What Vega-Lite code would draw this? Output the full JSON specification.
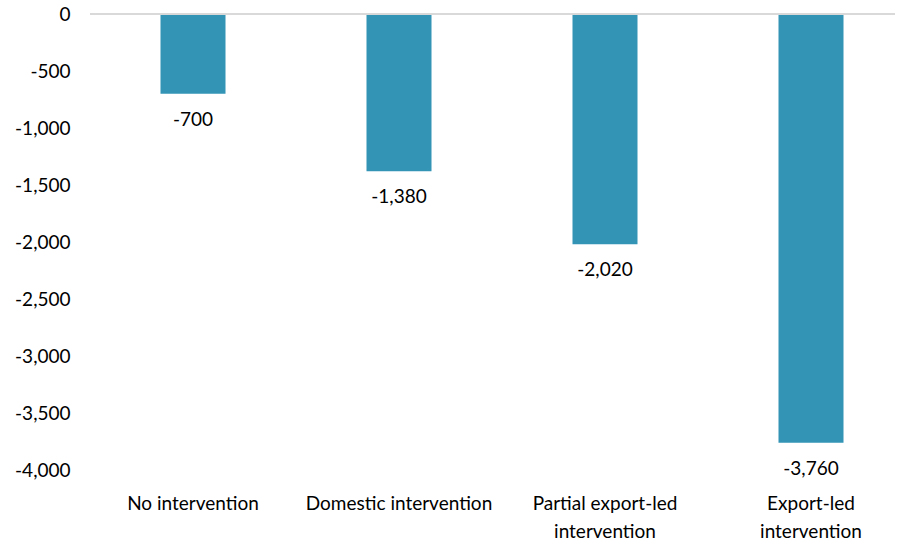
{
  "$schema": "https://vega.github.io/schema/vega-lite/v6.json",
  "width": 805,
  "height": 456,
  "autosize": "none",
  "padding": {"left": 90, "top": 14, "right": 6, "bottom": 71},
  "background": "white",
  "config": {"view": {"stroke": null}, "font": "Lato"},
  "data": {"values": [
    {"scenario": "No intervention", "value": -700, "label": "-700"},
    {"scenario": "Domestic intervention", "value": -1380, "label": "-1,380"},
    {"scenario": "Partial export-led intervention", "value": -2020, "label": "-2,020"},
    {"scenario": "Export-led intervention", "value": -3760, "label": "-3,760"}
  ]},
  "encoding": {
    "x": {"field": "scenario", "type": "nominal", "sort": null,
      "scale": {"range": [0, 824], "paddingInner": 0.684, "paddingOuter": 0.342},
      "axis": {"title": null, "domain": false, "ticks": false, "labelAngle": 0, "labelPadding": 33,
        "labelFontSize": 19, "labelColor": "#000000", "labelFont": "Lato", "labelLineHeight": 28,
        "labelBaseline": "middle", "labelLimit": 0,
        "labelExpr": "datum.label == 'Partial export-led intervention' ? ['Partial export-led','intervention'] : datum.label == 'Export-led intervention' ? ['Export-led','intervention'] : datum.label"}}
  },
  "layer": [
    {"mark": {"type": "bar", "color": "#3394B6", "width": 65},
      "encoding": {
        "y": {"field": "value", "type": "quantitative",
          "scale": {"domain": [-4000, 0], "nice": false},
          "axis": {"title": null, "domain": false, "ticks": false, "grid": false,
            "values": [0, -500, -1000, -1500, -2000, -2500, -3000, -3500, -4000],
            "labelPadding": 20, "labelFontSize": 19, "labelColor": "#000000", "labelFont": "Lato",
            "labelExpr": "datum.value == 0 ? '0' : '-' + format(abs(datum.value), ',')"}}
      }},
    {"mark": {"type": "rule", "color": "#d9d9d9", "strokeWidth": 1.5},
      "encoding": {"y": {"datum": 0, "type": "quantitative"}, "x": null}},
    {"mark": {"type": "text", "baseline": "top", "dy": 17, "fontSize": 19, "color": "#000000", "font": "Lato"},
      "encoding": {"y": {"field": "value", "type": "quantitative"}, "text": {"field": "label"}}}
  ]
}
